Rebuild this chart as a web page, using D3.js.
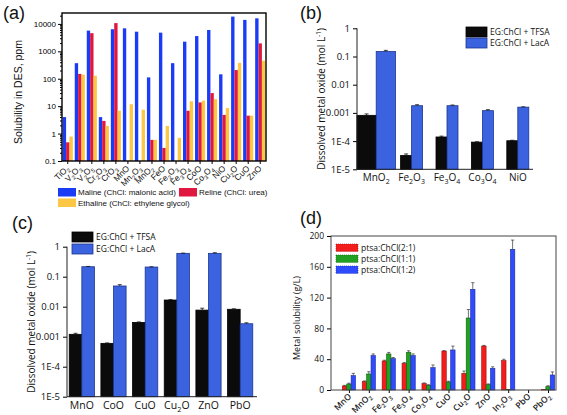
<!DOCTYPE html>
<html><head><meta charset="utf-8">
<script src="https://cdn.jsdelivr.net/npm/d3@7"></script>
<style>body{margin:0;background:#fff}svg{display:block}</style>
</head><body>
<script>
// ---------- DATA ----------
// Panel (a)
const catsA = ["TiO2","V2O3","V2O5","Cr2O3","CrO3","MnO","Mn2O3","MnO2","FeO","Fe2O3","Fe3O4","CoO","Co3O4","NiO","Cu2O","CuO","ZnO"];
const malineA = [4, 370, 5700, 4, 6400, 6900, 5200, 112, 4800, 370, 2250, 3600, 6000, 145, 18500, 14000, 16000];
const relineA = [0.48, 150, 4600, 2.9, 10700, null, null, 0.59, 0.3, null, 6.8, 13.7, 30, 4.8, 208, 4.5, 1950];
const ethalineA = [0.78, 141, 129, 1.9, 6.8, 11.8, 7.4, 0.59, 1.9, 0.7, 15, 16, 18, 8.5, 380, 4.5, 455];
const tickValsA = [0.1, 1, 10, 100, 1000, 10000];
const tickLabelsA = ["0.1", "1", "10", "100", "1000", "10000"];
const seriesNamesA = ["Maline (ChCl: malonic acid)", "Reline (ChCl: urea)", "Ethaline (ChCl: ethylene glycol)"];

// Panel (b)
const catsB = ["MnO2","Fe2O3","Fe3O4","Co3O4","NiO"];
const tfsaB = [8.2e-4, 3.1e-5, 1.4e-4, 9.2e-5, 1.03e-4];
const tfsaErrB = [1e-4, 4e-6, 1e-5, 3e-6, 4e-6];
const lacaB = [0.15, 0.0018, 0.0018, 0.0012, 0.0016];
const lacaErrB = [0.015, 1.5e-4, 1e-4, 1e-4, 4e-5];

// Panel (c)
const catsC = ["MnO","CoO","CuO","Cu2O","ZnO","PbO"];
const tfsaC = [0.0012, 6e-4, 0.003, 0.0167, 0.0077, 0.0082];
const tfsaErrC = [1e-4, 2e-5, 1e-4, 5e-4, 1.2e-3, 3e-4];
const lacaC = [0.215, 0.049, 0.21, 0.6, 0.6, 0.0027];
const lacaErrC = [0.005, 0.005, 0.004, 0.01, 0.03, 2e-4];

const tickValsBC = [1e-5, 1e-4, 0.001, 0.01, 0.1, 1];
const tickLabelsBC = ["1E-5", "1E-4", "0.001", "0.01", "0.1", "1"];
const seriesNamesBC = ["EG:ChCl + TFSA", "EG:ChCl + LacA"];

// Panel (d)
const catsD = ["MnO","MnO2","Fe2O3","Fe3O4","Co3O4","CuO","Cu2O","ZnO","In2O3","PbO","PbO2"];
const ratio21 = [5.2, 10.8, 37.7, 34.6, 8.2, 50.6, 21.6, 57.1, 38.1, 0, 0.4];
const ratio21Err = [0.8, 1, 1, 1, 1, 0.5, 3, 0.8, 1.8, 0, 0];
const ratio11 = [7.8, 20.8, 46.8, 48.9, 6.1, 10.4, 93.5, 6.9, 0.9, 0, 4.3];
const ratio11Err = [1, 3, 2, 2, 0.8, 1, 11, 1, 0, 0, 1.2];
const ratio12 = [18.6, 44.6, 40.7, 44.6, 29, 52, 130.7, 28.1, 182.7, 0, 19.5];
const ratio12Err = [3, 2.2, 1.5, 2.2, 3.5, 5, 8.7, 2, 12, 0, 4];
const tickValsD = [0, 40, 80, 120, 160, 200];
const seriesNamesD = ["ptsa:ChCl(2:1)", "ptsa:ChCl(1:1)", "ptsa:ChCl(1:2)"];

// ---------- HELPERS ----------
const W = 567, H = 415;
const svg = d3.select("body").append("svg").attr("width", W).attr("height", H)
  .attr("font-family", "'Liberation Sans', Arial, sans-serif");

function chem(textSel, str, fs) {
  const toks = str.match(/\d+|\D+/g);
  let sub = false;
  toks.forEach(t => {
    const isNum = /^\d+$/.test(t);
    const ts = textSel.append("tspan").text(t);
    if (isNum) { ts.attr("font-size", fs * 0.7).attr("dy", fs * 0.28); sub = true; }
    else if (sub) { ts.attr("dy", -fs * 0.28); sub = false; }
  });
}

function panelLetter(x, y, s) {
  svg.append("text").attr("x", x).attr("y", y).attr("font-size", 18)
    .attr("font-family", "'Liberation Sans', Arial, sans-serif").attr("fill", "#111").text(s);
}

function logMinor(domain) {
  const out = [];
  const lo = Math.floor(Math.log10(domain[0])), hi = Math.ceil(Math.log10(domain[1]));
  for (let e = lo; e < hi; e++) for (let m = 2; m <= 9; m++) {
    const v = m * Math.pow(10, e);
    if (v >= domain[0] && v <= domain[1]) out.push(v);
  }
  return out;
}

// ---------- PANEL (a) ----------
(function () {
  const g = svg.append("g");
  const L = 62, R = 266, T = 13, B = 161;
  const x = d3.scaleBand().domain(catsA).range([L, R]).paddingInner(0.16).paddingOuter(0.06);
  const y = d3.scaleLog().domain([0.1, 25000]).range([B, T]);
  const colors = ["#1a3cf5", "#e0183f", "#fcc744"];
  const series = [malineA, relineA, ethalineA];
  const bw = x.bandwidth() / 3;
  series.forEach((s, k) => {
    g.append("g").selectAll("rect").data(catsA.map((c, i) => ({ c, v: s[i] })).filter(d => d.v != null))
      .join("rect")
      .attr("x", d => x(d.c) + k * bw).attr("width", bw)
      .attr("y", d => y(d.v)).attr("height", d => B - y(d.v))
      .attr("fill", colors[k]);
  });
  // axes
  g.append("g").attr("transform", `translate(${L},0)`)
    .call(d3.axisLeft(y).tickValues(logMinor([0.1, 25000])).tickSize(2).tickFormat(""))
    .call(a => a.select(".domain").remove());
  const ya = g.append("g").attr("transform", `translate(${L},0)`)
    .call(d3.axisLeft(y).tickValues(tickValsA).tickFormat((d, i) => tickLabelsA[i]).tickSize(4).tickSizeOuter(0));
  ya.select(".domain").remove();
  ya.selectAll("text").attr("font-size", 8).attr("font-family", "'Liberation Sans', Arial, sans-serif").attr("dx", 1);
  ya.selectAll("line").attr("stroke-width", 1);
  const xa = g.append("g").attr("transform", `translate(0,${B})`)
    .call(d3.axisBottom(x).tickSize(3).tickSizeOuter(0).tickFormat(""));
  xa.select(".domain").remove();
  g.append("rect").attr("x", L).attr("y", T).attr("width", R - L).attr("height", B - T)
    .attr("fill", "none").attr("stroke", "#000").attr("stroke-width", 1.4);
  // x labels
  catsA.forEach(c => {
    const cx = x(c) + x.bandwidth() / 2 + 2;
    const t = g.append("text").attr("font-size", 8.5).attr("text-anchor", "end")
      .attr("transform", `translate(${cx},${B + 8}) rotate(-45)`).attr("fill", "#111");
    chem(t, c, 8.5);
  });
  // y label
  g.append("text").attr("transform", `translate(22,${(T + B) / 2 + 5}) rotate(-90)`)
    .attr("text-anchor", "middle").attr("font-size", 10.5).attr("fill", "#111").text("Solubility in DES, ppm");
  // legend
  const leg = [[58, 188, 0], [179, 188, 1], [58, 198.5, 2]];
  leg.forEach(([lx, ly, k]) => {
    g.append("rect").attr("x", lx).attr("y", ly).attr("width", 18).attr("height", 8.5).attr("fill", colors[k]);
    g.append("text").attr("x", lx + 20).attr("y", ly + 7.3).attr("font-size", 8).attr("fill", "#111").text(seriesNamesA[k]);
  });
  panelLetter(3, 19, "(a)");
})();

// ---------- PANELS (b) and (c) ----------
function logPanel(opt) {
  const g = svg.append("g").attr("font-family", "'Open Sans', 'Noto Sans', sans-serif");
  const { L, R, T, B, cats, s1, e1, s2, e2 } = opt;
  const x = d3.scaleBand().domain(cats).range(opt.band).paddingInner(opt.pi).paddingOuter(opt.po);
  const y = d3.scaleLog().domain([1e-5, 1]).range([B, T]);
  const cols = ["#0b0b0b", "#3b63df"];
  const strokes = ["#000", "#1c3590"];
  [[s1, e1], [s2, e2]].forEach(([s, e], k) => {
    cats.forEach((c, i) => {
      const w = opt.barW * (opt.wide && opt.wide[c] ? opt.wide[c] : 1);
      const cx = x(c) + x.bandwidth() / 2;
      const x0 = k === 0 ? cx - w : cx;
      g.append("rect").attr("x", x0).attr("width", w).attr("y", y(s[i])).attr("height", B - y(s[i]))
        .attr("fill", cols[k]).attr("stroke", strokes[k]).attr("stroke-width", 0.8);
      const ex = x0 + w / 2;
      const yt = y(s[i] + e[i]);
      g.append("line").attr("x1", ex).attr("x2", ex).attr("y1", y(s[i])).attr("y2", yt).attr("stroke", "#111").attr("stroke-width", 0.8);
      g.append("line").attr("x1", ex - 2).attr("x2", ex + 2).attr("y1", yt).attr("y2", yt).attr("stroke", "#111").attr("stroke-width", 0.8);
    });
  });
  const ya = g.append("g").attr("transform", `translate(${L},0)`)
    .call(d3.axisLeft(y).tickValues(tickValsBC).tickFormat((d, i) => tickLabelsBC[i]).tickSize(4).tickSizeOuter(0));
  ya.select(".domain").remove();
  ya.selectAll("text").attr("font-size", opt.tickFs).attr("font-family", "'Open Sans', 'Noto Sans', sans-serif").attr("fill", "#111");
  g.append("line").attr("x1", L).attr("x2", L).attr("y1", T).attr("y2", B).attr("stroke", "#222").attr("stroke-width", 1);
  g.append("line").attr("x1", L).attr("x2", R).attr("y1", B).attr("y2", B).attr("stroke", "#222").attr("stroke-width", 1);
  cats.forEach(c => {
    const t = g.append("text").attr("x", x(c) + x.bandwidth() / 2).attr("y", B + opt.xlabDy)
      .attr("text-anchor", "middle").attr("font-size", opt.xFs).attr("fill", "#111");
    chem(t, c, opt.xFs);
  });
  const yl = g.append("text").attr("transform", `translate(${opt.ylX},${opt.ylY}) rotate(-90)`)
    .attr("text-anchor", "middle").attr("font-size", opt.ylFs).attr("fill", "#111");
  yl.append("tspan").text("Dissolved metal oxide (mol L");
  yl.append("tspan").text("-1").attr("font-size", opt.ylFs * 0.65).attr("dy", -opt.ylFs * 0.4);
  yl.append("tspan").text(")").attr("dy", opt.ylFs * 0.4);
  opt.legend.forEach(([lx, ly], k) => {
    g.append("rect").attr("x", lx).attr("y", ly).attr("width", 21).attr("height", 10)
      .attr("fill", cols[k]).attr("stroke", strokes[k]).attr("stroke-width", 0.8);
    g.append("text").attr("x", lx + 24).attr("y", ly + 8).attr("font-size", 8.5).attr("fill", "#111").text(seriesNamesBC[k]);
  });
}

logPanel({
  L: 357, R: 533, T: 28.3, B: 169.3, cats: catsB, s1: tfsaB, e1: tfsaErrB, s2: lacaB, e2: lacaErrB,
  band: [358.5, 535.5], pi: 0, po: 0, barW: 11, wide: { "MnO2": 1.75 },
  tickFs: 9.5, xFs: 10, xlabDy: 12, ylX: 325, ylY: 99, ylFs: 10,
  legend: [[466, 27], [466, 38]]
});
panelLetter(300, 19, "(b)");

logPanel({
  L: 67, R: 257, T: 246.7, B: 396.7, cats: catsC, s1: tfsaC, e1: tfsaErrC, s2: lacaC, e2: lacaErrC,
  band: [66, 256], pi: 0.2, po: 0.1, barW: 12.6, wide: null,
  tickFs: 9.5, xFs: 10.5, xlabDy: 12.5, ylX: 35, ylY: 322, ylFs: 10,
  legend: [[72, 232], [72, 244]]
});
panelLetter(12, 229, "(c)");

// ---------- PANEL (d) ----------
(function () {
  const g = svg.append("g").attr("font-family", "'Open Sans', 'Noto Sans', sans-serif");
  const L = 331, R = 556, T = 236, B = 390;
  const x = d3.scaleLinear().domain([-0.9, 10.4]).range([L, R]);
  const y = d3.scaleLinear().domain([0, 200]).range([B, T]);
  const cols = ["#f21d1d", "#22a022", "#2f4bff"];
  const strokes = ["#a00d0d", "#0e5e0e", "#1a2a9c"];
  const series = [[ratio21, ratio21Err], [ratio11, ratio11Err], [ratio12, ratio12Err]];
  const bw = 4.4;
  series.forEach(([s, e], k) => {
    catsD.forEach((c, i) => {
      const x0 = x(i) + (k - 1.5) * bw;
      const v = s[i];
      g.append("rect").attr("x", x0).attr("width", bw).attr("y", y(v)).attr("height", B - y(v))
        .attr("fill", cols[k]).attr("stroke", strokes[k]).attr("stroke-width", 0.6);
      if (e[i] > 0) {
        const ex = x0 + bw / 2, yt = y(v + e[i]);
        g.append("line").attr("x1", ex).attr("x2", ex).attr("y1", y(v)).attr("y2", yt).attr("stroke", "#333").attr("stroke-width", 0.7);
        g.append("line").attr("x1", ex - 1.6).attr("x2", ex + 1.6).attr("y1", yt).attr("y2", yt).attr("stroke", "#333").attr("stroke-width", 0.7);
      }
    });
  });
  const ya = g.append("g").attr("transform", `translate(${L},0)`)
    .call(d3.axisLeft(y).tickValues(tickValsD).tickSize(4).tickSizeOuter(0));
  ya.select(".domain").remove();
  ya.selectAll("text").attr("font-size", 8.5).attr("font-family", "'Open Sans', 'Noto Sans', sans-serif").attr("fill", "#111");
  const xa = g.append("g").attr("transform", `translate(0,${B})`)
    .call(d3.axisBottom(x).tickValues(d3.range(catsD.length)).tickSize(3).tickSizeOuter(0).tickFormat(""));
  xa.select(".domain").remove();
  g.append("rect").attr("x", L).attr("y", T).attr("width", R - L).attr("height", B - T)
    .attr("fill", "none").attr("stroke", "#444").attr("stroke-width", 1);
  catsD.forEach((c, i) => {
    const t = g.append("text").attr("font-size", 8.5).attr("text-anchor", "end").attr("font-weight", 600)
      .attr("transform", `translate(${x(i) + 3},${B + 7}) rotate(-45)`).attr("fill", "#222");
    chem(t, c, 8.5);
  });
  g.append("text").attr("transform", `translate(300,318) rotate(-90)`).attr("text-anchor", "middle")
    .attr("font-size", 9).attr("fill", "#111").text("Metal solubility (g/L)");
  [244, 255, 266].forEach((ly, k) => {
    g.append("rect").attr("x", 336).attr("y", ly).attr("width", 22).attr("height", 7.5)
      .attr("fill", cols[k]).attr("stroke", strokes[k]).attr("stroke-width", 0.6).attr("stroke-dasharray", "1,1");
    g.append("text").attr("x", 361).attr("y", ly + 7).attr("font-size", 8.5).attr("fill", "#111").text(seriesNamesD[k]);
  });
  panelLetter(300, 224, "(d)");
})();
</script>
</body></html>
